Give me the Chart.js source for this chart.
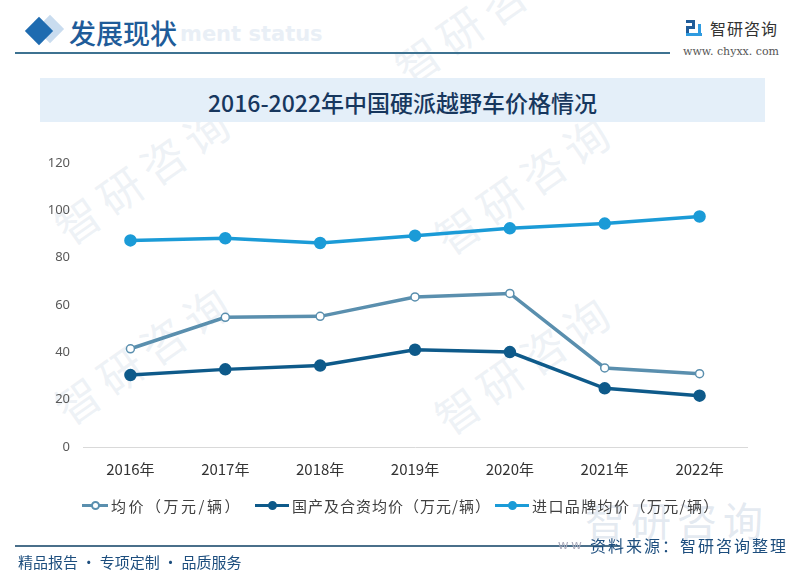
<!DOCTYPE html>
<html><head><meta charset="utf-8">
<script src="https://cdn.jsdelivr.net/npm/chart.js@4/dist/chart.umd.min.js"></script>
<style>
html,body{margin:0;padding:0;background:#fff;}
#wrap{position:relative;width:800px;height:579px;overflow:hidden;background:#fff;font-family:"Noto Sans CJK SC","Noto Sans",sans-serif;}
.abs{position:absolute;white-space:nowrap;}
.wm{position:absolute;color:rgba(190,203,220,0.26);font-size:44px;transform:rotate(-35deg);letter-spacing:8px;font-family:"Noto Sans CJK SC";}
#c{position:absolute;left:0;top:0;}
.lg{position:absolute;top:496px;height:18px;display:flex;align-items:center;font-size:15px;color:#404040;letter-spacing:1.4px;}
.mk{position:relative;width:26px;height:18px;margin-right:3px;}
.mk i{position:absolute;left:0;right:0;top:8px;height:3px;}
.mk b{position:absolute;left:9px;top:5px;width:5px;height:5px;border-radius:50%;border:2px solid;}
</style></head>
<body><div id="wrap">
  <div class="wm" style="left:40px;top:140px;">智研咨询</div>
  <div class="wm" style="left:40px;top:320px;">智研咨询</div>
  <div class="wm" style="left:420px;top:150px;">智研咨询</div>
  <div class="wm" style="left:420px;top:330px;">智研咨询</div>
  <div class="wm" style="left:380px;top:-20px;">智研咨询</div>
  <div class="abs" style="left:585px;top:490px;font-size:40px;color:rgba(185,200,218,0.4);letter-spacing:6px;">智研咨询</div>

  <div class="abs" style="top:19px;width:20px;height:20px;background:#c9dcef;transform:rotate(45deg);left:40px;"></div>
  <div class="abs" style="left:29px;top:21px;width:20px;height:20px;background:#1e6bb0;transform:rotate(45deg);"></div>
  <div class="abs" style="left:180px;top:22px;font-size:21px;font-weight:bold;color:#e9eff6;font-family:'DejaVu Sans';">ment status</div>
  <div class="abs" style="left:69px;top:13px;font-size:27px;font-weight:500;color:#1f5c99;">发展现状</div>
  <div class="abs" style="left:15px;top:52px;width:655px;height:2px;background:#3d7291;"></div>
  <div class="abs" style="left:686px;top:20px;width:16px;height:16px;">
    <div style="position:absolute;left:0;top:0;width:9px;height:3px;background:#1f5c99"></div>
    <div style="position:absolute;left:6px;top:0;width:3px;height:9px;background:#1f5c99"></div>
    <div style="position:absolute;left:0;top:6px;width:9px;height:3px;background:#1f5c99"></div>
    <div style="position:absolute;left:0;top:6px;width:3px;height:10px;background:#1f5c99"></div>
    <div style="position:absolute;left:0;top:13px;width:16px;height:3px;background:#2f9be0"></div>
    <div style="position:absolute;left:12px;top:4px;width:3px;height:12px;background:#2f9be0"></div>
  </div>
  <div class="abs" style="left:710px;top:16px;font-size:16px;color:#333;letter-spacing:1px;">智研咨询</div>
  <div class="abs" style="left:683px;top:45px;font-size:11px;color:#555;font-family:'DejaVu Serif';">www. chyxx. com</div>

  <div class="abs" style="left:40px;top:78px;width:725px;height:44px;background:#e4eff9;"></div>
  <div class="abs" style="left:40px;top:85px;width:725px;text-align:center;font-size:23px;font-weight:500;color:#17375e;">2016-2022年中国硬派越野车价格情况</div>

  <canvas id="c" width="800" height="579"></canvas>

  <div class="lg" style="left:82px;letter-spacing:2.5px;"><div class="mk"><i style="background:#5a8fae"></i><b style="border-color:#5a8fae;background:#fff"></b></div>均价（万元/辆）</div>
  <div class="lg" style="left:255px;letter-spacing:1px;"><div class="mk" style="width:34px"><i style="background:#0e5a8a"></i><b style="border-color:#0e5a8a;background:#0e5a8a;left:13px"></b></div>国产及合资均价（万元/辆）</div>
  <div class="lg" style="left:495px;"><div class="mk" style="width:34px"><i style="background:#1b9bd7"></i><b style="border-color:#1b9bd7;background:#1b9bd7;left:13px"></b></div>进口品牌均价（万元/辆）</div>

  <div class="abs" style="left:15px;top:545px;width:605px;height:2px;background:#4a6f8a;"></div>
  <div class="abs" style="left:18px;top:551px;font-size:15px;color:#1d4e7e;">精品报告 · 专项定制 · 品质服务</div>
  <div class="abs" style="left:558px;top:534px;font-size:13px;color:#aab;">w w</div>
  <div class="abs" style="left:590px;top:533px;font-size:16px;color:#1d4e7e;letter-spacing:2px;">资料来源：智研咨询整理</div>
</div>
<script>
const categories = ["2016年","2017年","2018年","2019年","2020年","2021年","2022年"];
const avgPrice = [41.5, 54.8, 55.2, 63.4, 64.9, 33.4, 31.0];
const domesticPrice = [30.4, 32.8, 34.4, 41.1, 40.1, 24.8, 21.7];
const importPrice = [87.3, 88.2, 86.2, 89.3, 92.4, 94.4, 97.4];
const seriesNames = ["均价（万元/辆）","国产及合资均价（万元/辆）","进口品牌均价（万元/辆）"];
const yTicks = [0,20,40,60,80,100,120];

new Chart(document.getElementById('c'), {
  type: 'line',
  data: {
    labels: categories,
    datasets: [
      {label: seriesNames[0], data: avgPrice, borderColor:'#5a8fae', backgroundColor:'#ffffff', pointBackgroundColor:'#ffffff', pointBorderColor:'#5a8fae', borderWidth:3.5, pointRadius:4, pointBorderWidth:1.5},
      {label: seriesNames[1], data: domesticPrice, borderColor:'#0e5a8a', backgroundColor:'#0e5a8a', pointBackgroundColor:'#0e5a8a', pointBorderColor:'#0e5a8a', borderWidth:3.5, pointRadius:4.5},
      {label: seriesNames[2], data: importPrice, borderColor:'#1b9bd7', backgroundColor:'#1b9bd7', pointBackgroundColor:'#1b9bd7', pointBorderColor:'#1b9bd7', borderWidth:3.5, pointRadius:4.5}
    ]
  },
  options: {
    responsive:false, animation:false,
    layout:{padding:{left:0, top:163, right:53, bottom:0}},
    plugins:{legend:{display:false}, tooltip:{enabled:false}},
    scales:{
      x:{
        offset:true,
        grid:{display:false, drawTicks:false},
        border:{display:true, color:'#d9d9d9', width:1},
        ticks:{padding:13, color:'#333333', font:{size:15, family:'"Noto Sans CJK SC", sans-serif'}, maxRotation:0},
        afterFit(s){ s.height = 132; }
      },
      y:{
        min:0, max:120,
        afterBuildTicks(s){ s.ticks = yTicks.map(v=>({value:v})); },
        grid:{display:false, drawTicks:false},
        border:{display:false},
        ticks:{padding:13, color:'#595959', font:{size:13, family:'"Noto Sans", sans-serif'}},
        afterFit(s){ s.width = 83; }
      }
    }
  }
});
</script>
</body></html>
